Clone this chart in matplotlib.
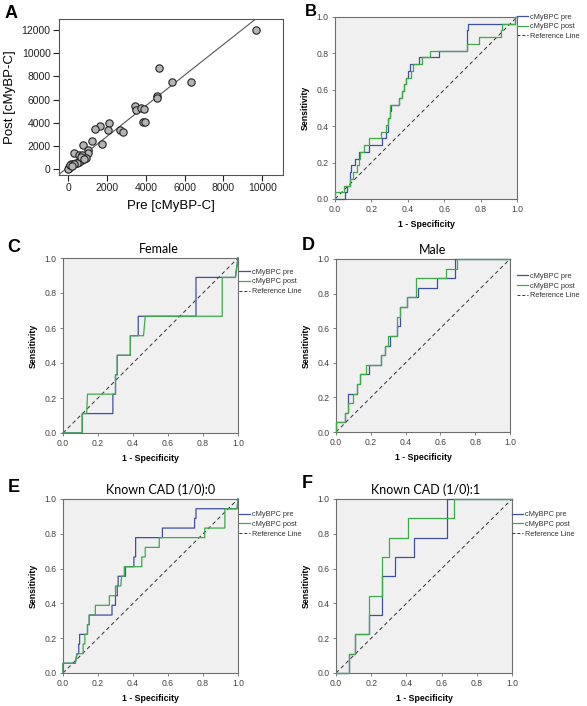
import matplotlib
matplotlib.use('Agg')
import matplotlib.pyplot as plt

plt.rcParams['font.family'] = ['Liberation Sans', 'DejaVu Sans']

# ---------------- Panel A data (scatter) ----------------
pre_cmybpc = [9660, 4690, 5330, 6310, 4550, 4570, 3420, 3490, 3750, 3920, 3830, 3950,
              2110, 2030, 1620, 1360, 2680, 2800, 1750, 1200, 770, 290, 1030, 1000,
              570, 720, 890, 690, 550, 380, 260, 170, 120, 50, 30, 0, 140, 90, 450,
              640, 820, 300, 200]
post_cmybpc = [12000, 8740, 7480, 7560, 6330, 6160, 5470, 5070, 5270, 5210, 4100, 4040,
               4010, 3380, 3720, 3440, 3380, 3180, 2210, 2460, 2090, 1400, 1660, 1380,
               1200, 1230, 950, 800, 660, 570, 460, 370, 320, 230, 90, 30, 460, 400, 520,
               1100, 900, 420, 300]
fit_slope = 1.32
fit_intercept = 200
scatter_xticks = [0, 2000, 4000, 6000, 8000, 10000]
scatter_yticks = [0, 2000, 4000, 6000, 8000, 10000, 12000]

# ---------------- ROC data ----------------
roc_ticks = [0.0, 0.2, 0.4, 0.6, 0.8, 1.0]
legend_labels = ['cMyBPC pre', 'cMyBPC post', 'Reference Line']

# B: all patients
b_pre_fpr = [0, 0.054, 0.054, 0.065, 0.065, 0.08, 0.08, 0.09, 0.09, 0.11, 0.11, 0.13, 0.13,
             0.185, 0.185, 0.26, 0.26, 0.28, 0.28, 0.29, 0.29, 0.30, 0.30, 0.31, 0.31,
             0.35, 0.35, 0.37, 0.37, 0.38, 0.38, 0.39, 0.39, 0.40, 0.40, 0.41, 0.41,
             0.46, 0.46, 0.57, 0.57, 0.725, 0.725, 0.73, 0.73, 0.99, 0.99, 1.0]
b_pre_tpr = [0, 0, 0.037, 0.037, 0.074, 0.074, 0.148, 0.148, 0.185, 0.185, 0.222, 0.222, 0.259,
             0.259, 0.296, 0.296, 0.333, 0.333, 0.370, 0.370, 0.444, 0.444, 0.481, 0.481, 0.519,
             0.519, 0.556, 0.556, 0.593, 0.593, 0.630, 0.630, 0.667, 0.667, 0.704, 0.704, 0.741,
             0.741, 0.778, 0.778, 0.815, 0.815, 0.926, 0.926, 0.963, 0.963, 1.0, 1.0]
b_post_fpr = [0, 0, 0.05, 0.05, 0.08, 0.08, 0.10, 0.10, 0.12, 0.12, 0.13, 0.13, 0.14, 0.14,
              0.16, 0.16, 0.185, 0.185, 0.25, 0.25, 0.28, 0.28, 0.29, 0.29, 0.30, 0.30,
              0.35, 0.35, 0.37, 0.37, 0.38, 0.38, 0.39, 0.39, 0.42, 0.42, 0.43, 0.43,
              0.48, 0.48, 0.52, 0.52, 0.725, 0.725, 0.79, 0.79, 0.91, 0.91, 0.915, 0.915,
              0.99, 0.99, 1.0]
b_post_tpr = [0, 0.037, 0.037, 0.074, 0.074, 0.111, 0.111, 0.148, 0.148, 0.185, 0.185, 0.222,
              0.222, 0.259, 0.259, 0.296, 0.296, 0.333, 0.333, 0.370, 0.370, 0.407, 0.407,
              0.444, 0.444, 0.519, 0.519, 0.556, 0.556, 0.593, 0.593, 0.630, 0.630, 0.667,
              0.667, 0.704, 0.704, 0.741, 0.741, 0.778, 0.778, 0.815, 0.815, 0.852, 0.852,
              0.889, 0.889, 0.926, 0.926, 0.963, 0.963, 1.0, 1.0]

# C: Female
c_pre_fpr = [0, 0.11, 0.11, 0.285, 0.285, 0.30, 0.30, 0.31, 0.31, 0.385, 0.385, 0.43, 0.43,
             0.76, 0.76, 0.985, 1.0]
c_pre_tpr = [0, 0, 0.111, 0.111, 0.222, 0.222, 0.333, 0.333, 0.444, 0.444, 0.556, 0.556,
             0.667, 0.667, 0.889, 0.889, 1.0]
c_post_fpr = [0, 0.11, 0.11, 0.135, 0.14, 0.30, 0.30, 0.31, 0.31, 0.385, 0.385, 0.46, 0.47,
              0.91, 0.91, 0.985, 1.0]
c_post_tpr = [0, 0, 0.111, 0.111, 0.222, 0.222, 0.333, 0.333, 0.444, 0.444, 0.556, 0.556,
              0.667, 0.667, 0.889, 0.889, 1.0]

# D: Male
d_pre_fpr = [0, 0, 0.05, 0.05, 0.067, 0.067, 0.10, 0.12, 0.12, 0.14, 0.14, 0.192, 0.192,
             0.26, 0.26, 0.28, 0.28, 0.313, 0.313, 0.35, 0.35, 0.37, 0.37, 0.41, 0.41,
             0.47, 0.47, 0.58, 0.58, 0.685, 0.685, 1.0]
d_pre_tpr = [0, 0.056, 0.056, 0.111, 0.111, 0.222, 0.222, 0.222, 0.278, 0.278, 0.333, 0.333,
             0.389, 0.389, 0.444, 0.444, 0.5, 0.5, 0.556, 0.556, 0.611, 0.611, 0.722, 0.722,
             0.778, 0.778, 0.833, 0.833, 0.889, 0.889, 1.0, 1.0]
d_post_fpr = [0, 0, 0.05, 0.05, 0.067, 0.067, 0.10, 0.10, 0.12, 0.12, 0.14, 0.14, 0.175,
              0.175, 0.26, 0.26, 0.28, 0.28, 0.30, 0.30, 0.352, 0.352, 0.367, 0.367, 0.406,
              0.406, 0.46, 0.46, 0.633, 0.633, 0.698, 0.698, 1.0]
d_post_tpr = [0, 0.056, 0.056, 0.111, 0.111, 0.167, 0.167, 0.222, 0.222, 0.278, 0.278, 0.333,
              0.333, 0.389, 0.389, 0.444, 0.444, 0.5, 0.5, 0.556, 0.556, 0.667, 0.667, 0.722,
              0.722, 0.778, 0.778, 0.889, 0.889, 0.944, 0.944, 1.0, 1.0]

# E: Known CAD = 0
e_pre_fpr = [0, 0, 0.07, 0.08, 0.09, 0.09, 0.095, 0.095, 0.14, 0.14, 0.15, 0.15, 0.28, 0.28,
             0.30, 0.30, 0.31, 0.31, 0.315, 0.315, 0.357, 0.357, 0.405, 0.405, 0.415, 0.415,
             0.568, 0.568, 0.752, 0.752, 0.76, 0.76, 0.995, 1.0]
e_pre_tpr = [0, 0.056, 0.056, 0.111, 0.111, 0.167, 0.167, 0.222, 0.222, 0.278, 0.278, 0.333,
             0.333, 0.389, 0.389, 0.444, 0.444, 0.5, 0.5, 0.556, 0.556, 0.611, 0.611, 0.667,
             0.667, 0.778, 0.778, 0.833, 0.833, 0.889, 0.889, 0.944, 0.944, 1.0]
e_post_fpr = [0, 0, 0.07, 0.08, 0.115, 0.115, 0.125, 0.125, 0.14, 0.14, 0.15, 0.15, 0.185,
              0.185, 0.265, 0.265, 0.30, 0.30, 0.33, 0.335, 0.35, 0.35, 0.45, 0.45, 0.47,
              0.47, 0.55, 0.55, 0.81, 0.81, 0.925, 0.925, 0.995, 1.0]
e_post_tpr = [0, 0.056, 0.056, 0.111, 0.111, 0.167, 0.167, 0.222, 0.222, 0.278, 0.278, 0.333,
              0.333, 0.389, 0.389, 0.444, 0.444, 0.5, 0.5, 0.556, 0.556, 0.611, 0.611, 0.667,
              0.667, 0.722, 0.722, 0.778, 0.778, 0.833, 0.833, 0.944, 0.944, 1.0]

# F: Known CAD = 1
f_pre_fpr = [0, 0.073, 0.073, 0.11, 0.11, 0.185, 0.185, 0.26, 0.26, 0.337, 0.337, 0.444,
             0.444, 0.633, 0.633, 1.0]
f_pre_tpr = [0, 0, 0.111, 0.111, 0.222, 0.222, 0.333, 0.333, 0.556, 0.556, 0.667, 0.667,
             0.778, 0.778, 1.0, 1.0]
f_post_fpr = [0, 0.073, 0.073, 0.11, 0.11, 0.188, 0.188, 0.26, 0.26, 0.30, 0.30, 0.41, 0.41,
              0.67, 0.67, 1.0]
f_post_tpr = [0, 0, 0.111, 0.111, 0.222, 0.222, 0.444, 0.444, 0.667, 0.667, 0.778, 0.778,
              0.889, 0.889, 1.0, 1.0]

# ---------------- Styling ----------------
W, H = 587, 706
PRE_COLOR = '#3F4FA3'
POST_COLOR = '#3CAB48'
BG = '#F0F0F0'
SPINE = '#6E6E6E'
TICKLAB = '#444444'

fig = plt.figure(figsize=(W / 100, H / 100), dpi=100)


def px_axes(left, top, right, bottom):
    return fig.add_axes([left / W, 1 - bottom / H, (right - left) / W, (bottom - top) / H])


# ---------------- Panel A ----------------
axA = px_axes(59, 19, 283, 175)
axA.scatter(pre_cmybpc, post_cmybpc, s=28, facecolor='#B4B4B4', edgecolor='#222222',
            linewidth=0.8, zorder=3)
axA.axline((0, fit_intercept), slope=fit_slope, color='#555555', linewidth=0.8, zorder=2)
axA.set_xlim(-480, 11070)
axA.set_ylim(-490, 12950)
axA.set_xticks(scatter_xticks)
axA.set_yticks(scatter_yticks)
axA.tick_params(direction='out', length=4, width=0.8, labelsize=7.5, colors='#222222', pad=2)
for s in axA.spines.values():
    s.set_color('#555555')
    s.set_linewidth(0.8)
axA.set_xlabel('Pre [cMyBP-C]', fontsize=9.5, labelpad=5)
axA.set_ylabel('Post [cMyBP-C]', fontsize=9.5, labelpad=4)


# ---------------- ROC panels ----------------
def roc_panel(box, pre_x, pre_y, post_x, post_y, title, title_dx, leg_anchor):
    ax = px_axes(*box)
    ax.set_facecolor(BG)
    ax.axline((0, 0), slope=1, color='#333333', linewidth=0.7, linestyle=(0, (4, 3)), zorder=2)
    ax.plot(pre_x, pre_y, color=PRE_COLOR, linewidth=0.9, zorder=3, clip_on=False)
    ax.plot(post_x, post_y, color=POST_COLOR, linewidth=0.9, zorder=4, clip_on=False)
    ax.set_xlim(0, 1)
    ax.set_ylim(0, 1)
    ax.set_xticks(roc_ticks)
    ax.set_yticks(roc_ticks)
    ax.set_xticklabels([f'{v:.1f}' for v in roc_ticks])
    ax.set_yticklabels([f'{v:.1f}' for v in roc_ticks])
    ax.tick_params(direction='out', length=2.5, width=0.6, labelsize=6.2,
                   colors=SPINE, labelcolor=TICKLAB, pad=2)
    for s in ax.spines.values():
        s.set_color(SPINE)
        s.set_linewidth(0.8)
    ax.set_xlabel('1 - Specificity', fontsize=6.3, fontweight='bold', labelpad=4)
    ax.set_ylabel('Sensitivity', fontsize=6.3, fontweight='bold', labelpad=5)
    if title:
        width_px = box[2] - box[0]
        ax.text(0.5 + title_dx / width_px, 1.0 + 3 / (box[3] - box[1]), title,
                transform=ax.transAxes, ha='center', va='bottom', fontsize=9,
                family=['Lato', 'DejaVu Sans'])
    handles = [
        plt.Line2D([], [], color=PRE_COLOR, linewidth=0.9),
        plt.Line2D([], [], color=POST_COLOR, linewidth=0.9),
        plt.Line2D([], [], color='#333333', linewidth=0.7, linestyle=(0, (3, 2))),
    ]
    leg = ax.legend(handles, legend_labels, loc='upper left', bbox_to_anchor=leg_anchor,
                    frameon=False, fontsize=5.3, handlelength=1.5, handletextpad=0.3,
                    labelspacing=0.35, borderpad=0, borderaxespad=0)
    for t in leg.get_texts():
        t.set_color('#333333')
    return ax


roc_panel((335, 17, 517, 199), b_pre_fpr, b_pre_tpr, b_post_fpr, b_post_tpr, None, 0,
          (1.0, 1.02))
roc_panel((63, 258, 238, 433), c_pre_fpr, c_pre_tpr, c_post_fpr, c_post_tpr, 'Female', 8,
          (1.005, 0.94))
roc_panel((336, 259, 510, 432), d_pre_fpr, d_pre_tpr, d_post_fpr, d_post_tpr, 'Male', 10,
          (1.04, 0.92))
roc_panel((63, 499, 238, 673), e_pre_fpr, e_pre_tpr, e_post_fpr, e_post_tpr,
          'Known CAD (1/0):0', 10, (1.005, 0.93))
roc_panel((336, 499, 512, 673), f_pre_fpr, f_pre_tpr, f_post_fpr, f_post_tpr,
          'Known CAD (1/0):1', 2, (1.0, 0.93))

# ---------------- Panel letters ----------------
letters = [('A', 5, 14, 13), ('B', 305, 12, 12), ('C', 7, 247, 13), ('D', 302, 245, 13),
           ('E', 8, 487, 13), ('F', 302, 484, 13)]
for txt, x, y, fs in letters:
    fig.text(x / W, 1 - y / H, txt, fontsize=fs, fontweight='bold', ha='left', va='center')

fig.savefig('out.png', dpi=100)
